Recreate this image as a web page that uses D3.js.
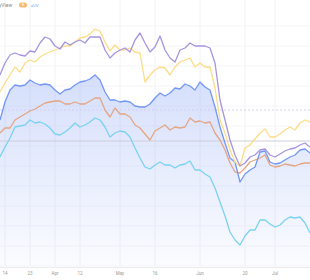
<!DOCTYPE html>
<html>
<head>
<meta charset="utf-8">
<script src="https://cdn.jsdelivr.net/npm/d3@7"></script>
<style>
  body { margin: 0; background: #fff; }
  svg { display: block; }
</style>
</head>
<body>
<div id="chart"></div>
<script>
// series values, one per period (index based)
var purple = [191,203,211,213,211,210,215,214,223,229, 227,220,217,224,221,224,226,223,229,229,
  229,216,208,213,216,218,214,226,233,223, 214,219,230,216,208,204,216,218,223,220,
  220,220,218,203,166,146,126,111,100,103, 109,111,116,117,111,109,112,115,117,118, 121,123,119];
var yellow = [174,183,191,199,194,203,206,204,209,212, 214,216,218,220,220,224,228,229,232,237,
  235,224,215,221,216,216,218,214,213,184, 191,196,199,198,191,199,204,206,208,199,
  203,199,199,178,146,133,116,104,100,118, 121,127,133,137,129,129,132,136,139,136, 143,146,144];
var blue = [146,164,176,181,180,181,186,183,181,182, 181,176,172,176,177,181,184,185,187,191,
  186,174,166,166,164,165,164,160,159,159, 162,168,173,170,173,178,177,182,180,176,
  184,179,176,159,139,123,108,104,84,92, 96,99,114,115,104,102,103,106,109,111, 116,117,113];
var orange = [133,138,138,146,149,152,155,157,160,163, 164,165,165,162,162,164,162,162,165,168,
  168,156,149,158,152,152,149,141,138,132, 126,135,138,141,136,139,138,139,148,144,
  145,143,144,133,126,116,103,94,93,98, 104,106,108,111,101,99,100,102,101,100, 102,103,103];
var cyan = [109,119,128,139,140,141,146,143,144,142, 138,132,131,134,138,143,139,141,144,148,
  146,139,129,133,135,134,129,118,108,99, 97,101,104,101,101,98,101,102,105,96,
  96,92,89,78,64,50,34,26,21,30, 36,36,46,46,42,39,41,46,49,48, 49,43,33];

var tickIndex = [1, 6, 11, 16, 24, 31, 40, 49, 55];
var tickLabels = ["14", "23", "Apr", "12", "May", "16", "Jun", "20", "Jul"];
var markValues = [156, 125];

var w = 310, h = 280;
var svg = d3.select("#chart").append("svg")
  .attr("width", w)
  .attr("height", h);

var x = d3.scaleLinear().domain([0, purple.length - 1]).range([0, w]);
var y = d3.scaleLinear().domain([0, 250]).range([266, 16]);

// gradient for the area under the blue series
var grad = svg.append("defs").append("linearGradient")
  .attr("id", "blueFill")
  .attr("x1", 0).attr("y1", 0).attr("x2", 0).attr("y2", 1);
grad.append("stop").attr("offset", "0%").attr("stop-color", "#7393f5").attr("stop-opacity", 0.3);
grad.append("stop").attr("offset", "100%").attr("stop-color", "#7393f5").attr("stop-opacity", 0.03);

// grid
var grid = svg.append("g");
grid.selectAll("line.v")
  .data(tickIndex)
  .enter().append("line")
  .attr("x1", d => x(d)).attr("x2", d => x(d))
  .attr("y1", 0).attr("y2", y(0))
  .style("stroke", "#f2f2f5").style("stroke-width", 1);
grid.selectAll("line.h")
  .data(y.ticks(8))
  .enter().append("line")
  .attr("x1", 0).attr("x2", w)
  .attr("y1", d => y(d)).attr("y2", d => y(d))
  .style("stroke", "#f5f5f8").style("stroke-width", 1);

// blue area
var area = d3.area()
  .x((d, i) => x(i))
  .y0(y(0))
  .y1(d => y(d));
svg.append("path")
  .datum(blue)
  .attr("d", area)
  .style("fill", "url(#blueFill)");

// mark lines
svg.append("line")
  .attr("x1", 0).attr("x2", w)
  .attr("y1", y(markValues[0])).attr("y2", y(markValues[0]))
  .style("stroke", "#cfcff4").style("stroke-width", 1)
  .style("stroke-dasharray", "2,2");
svg.append("line")
  .attr("x1", 0).attr("x2", w)
  .attr("y1", y(markValues[1])).attr("y2", y(markValues[1]))
  .style("stroke", "#cdcdda").style("stroke-width", 1);

// series lines
var line = d3.line()
  .x((d, i) => x(i))
  .y(d => y(d));
var series = [
  { values: cyan, color: "#7ad2f0" },
  { values: orange, color: "#e4a583" },
  { values: blue, color: "#7297f6" },
  { values: yellow, color: "#fddc86" },
  { values: purple, color: "#a694e0" }
];
svg.selectAll("path.series")
  .data(series)
  .enter().append("path")
  .attr("class", "series")
  .attr("d", d => line(d.values))
  .style("fill", "none")
  .style("stroke", d => d.color)
  .style("stroke-width", 1.3)
  .style("stroke-linejoin", "round");

// x axis
svg.append("line")
  .attr("x1", 0).attr("x2", w)
  .attr("y1", 267.5).attr("y2", 267.5)
  .style("stroke", "#ebebee");
svg.selectAll("text.tick")
  .data(tickIndex)
  .enter().append("text")
  .attr("x", d => x(d))
  .attr("y", 274.5)
  .attr("text-anchor", "middle")
  .style("font-family", "Roboto, sans-serif")
  .style("font-size", "4.5px")
  .style("fill", "#9a9a9a")
  .text((d, i) => tickLabels[i]);

// legend (cropped at the left)
svg.append("text")
  .attr("x", -1).attr("y", 7)
  .style("font-family", "Roboto, sans-serif")
  .style("font-size", "5px")
  .style("fill", "#888")
  .text("yView");
svg.append("rect")
  .attr("x", 19).attr("y", 2.5)
  .attr("width", 8).attr("height", 5)
  .attr("rx", 2.5)
  .style("fill", "#f9b872");
svg.append("text")
  .attr("x", 23).attr("y", 6.3)
  .attr("text-anchor", "middle")
  .style("font-family", "Roboto, sans-serif")
  .style("font-size", "3.8px")
  .style("fill", "#fff")
  .text("B");
svg.append("text")
  .attr("x", 31).attr("y", 7)
  .style("font-family", "Roboto, sans-serif")
  .style("font-size", "4.2px")
  .style("fill", "#84a2f3")
  .text("sUV");
</script>
</body>
</html>
